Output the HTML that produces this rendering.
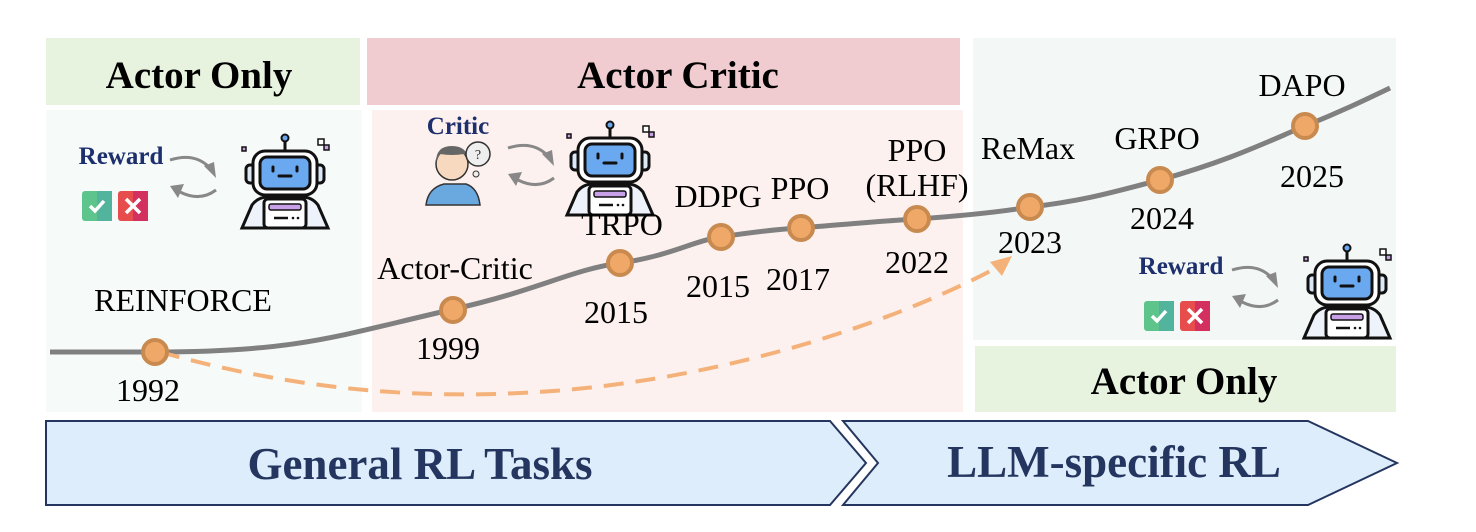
<!DOCTYPE html>
<html><head><meta charset="utf-8"><style>
html,body{margin:0;padding:0;background:#fff;}
svg{display:block;font-family:"Liberation Serif",serif;}
</style></head><body>
<svg width="1476" height="532" viewBox="0 0 1476 532" xmlns="http://www.w3.org/2000/svg">
<defs>
<g id="robot">
  <path d="M2 95 L12 72 Q18 64 28 64 L62 64 Q72 64 78 72 L88 95 Z" fill="#eef3fb" stroke="#111" stroke-width="3"/>
  <rect x="24" y="66" width="42" height="29" rx="4" fill="#fff" stroke="#111" stroke-width="3"/>
  <rect x="29" y="71" width="32" height="6" rx="2" fill="#c7a0e8" stroke="#111" stroke-width="1.5"/>
  <line x1="34" y1="85" x2="48" y2="85" stroke="#111" stroke-width="2.5"/>
  <circle cx="53" cy="85" r="1.3" fill="#111"/><circle cx="58" cy="85" r="1.3" fill="#111"/>
  <line x1="45" y1="6" x2="45" y2="18" stroke="#111" stroke-width="3"/>
  <circle cx="45" cy="5" r="3.5" fill="#6aa8f0" stroke="#111" stroke-width="2"/>
  <rect x="6" y="32" width="10" height="18" rx="4" fill="#dde8f6" stroke="#111" stroke-width="3"/>
  <rect x="74" y="32" width="10" height="18" rx="4" fill="#dde8f6" stroke="#111" stroke-width="3"/>
  <rect x="13" y="18" width="64" height="44" rx="12" fill="#fff" stroke="#111" stroke-width="3"/>
  <rect x="20" y="24" width="50" height="32" rx="7" fill="#6aa8f0" stroke="#111" stroke-width="3"/>
  <line x1="33" y1="34" x2="33" y2="38" stroke="#111" stroke-width="3" stroke-linecap="round"/>
  <line x1="57" y1="34" x2="57" y2="38" stroke="#111" stroke-width="3" stroke-linecap="round"/>
  <line x1="39" y1="43" x2="51" y2="43" stroke="#111" stroke-width="3" stroke-linecap="round"/>
  <rect x="2" y="14" width="4" height="4" fill="#c7a0e8" stroke="#111" stroke-width="1.5"/>
  <rect x="78" y="6" width="6" height="6" fill="#fff" stroke="#111" stroke-width="1.5"/>
  <rect x="84" y="12" width="5" height="5" fill="#c7a0e8" stroke="#111" stroke-width="1.5"/>
</g>
<g id="cyc">
  <path d="M0 0 Q25 -8 40 8" fill="none" stroke="#888" stroke-width="3"/>
  <path d="M34 6 L46 18 L44 2 Z" fill="#888"/>
  <path d="M46 30 Q30 42 10 32" fill="none" stroke="#888" stroke-width="3"/>
  <path d="M0 26 L14 24 L8 38 Z" fill="#888"/>
</g>
<g id="ticks">
  <rect x="0" y="0" width="30" height="30" rx="3" fill="#5dc48b"/>
  <rect x="15" y="0" width="15" height="30" fill="#53b49d"/>
  <path d="M8 15 L13 20 L22 10" fill="none" stroke="#fff" stroke-width="3.5"/>
  <rect x="36" y="0" width="30" height="30" rx="3" fill="#e84d4d"/>
  <rect x="51" y="0" width="15" height="30" rx="0" fill="#d33060"/>
  <path d="M44 8 L58 22 M58 8 L44 22" stroke="#fff" stroke-width="3.5"/>
</g>
</defs>

<rect x="46" y="38" width="314" height="67" fill="#e8f3df"/>
<rect x="46" y="110" width="316" height="302" fill="#f6faf8"/>
<rect x="367" y="38" width="593" height="67" fill="#f0ccd0"/>
<rect x="372" y="110" width="591" height="302" fill="#fdf1ef"/>
<rect x="973" y="38" width="423" height="302" fill="#f3f8f6"/>
<rect x="975" y="346" width="421" height="66" fill="#e8f3df"/>

<text x="199" y="88" font-size="39" font-weight="bold" text-anchor="middle" fill="#000">Actor Only</text>
<text x="678" y="88" font-size="39" font-weight="bold" text-anchor="middle" fill="#000">Actor Critic</text>
<text x="1184" y="394" font-size="39" font-weight="bold" text-anchor="middle" fill="#000">Actor Only</text>

<path d="M46 421 L830 421 L866 463 L830 505 L46 505 Z" fill="#deedfb" stroke="#24365f" stroke-width="2"/>
<path d="M843 421 L1308 421 L1397 463 L1308 505 L843 505 L878 463 Z" fill="#deedfb" stroke="#24365f" stroke-width="2"/>
<text x="420" y="479" font-size="45" font-weight="bold" text-anchor="middle" fill="#24365f">General RL Tasks</text>
<text x="1114" y="477" font-size="45" font-weight="bold" text-anchor="middle" fill="#24365f">LLM-specific RL</text>

<text x="121" y="164" font-size="25" font-weight="bold" text-anchor="middle" fill="#1e2f6e">Reward</text>
<use href="#ticks" x="82" y="191"/>
<use href="#cyc" x="170" y="160"/>
<use href="#robot" x="240" y="133"/>

<text x="458" y="134" font-size="25" font-weight="bold" text-anchor="middle" fill="#1e2f6e">Critic</text>
<g transform="translate(426,140)">
  <path d="M0 65 Q2 48 18 44 L40 44 Q52 48 54 65 Z" fill="#6aa8e0" stroke="#333" stroke-width="1.5"/>
  <circle cx="26" cy="24" r="16" fill="#f7d9bf" stroke="#333" stroke-width="1.5"/>
  <path d="M10 22 Q10 6 26 6 Q40 6 42 18 L38 14 Q26 16 14 14 Z" fill="#666"/>
  <circle cx="52" cy="14" r="12" fill="#eee" stroke="#333" stroke-width="1.5"/>
  <text x="52" y="19" font-size="14" text-anchor="middle" fill="#333">?</text>
  <circle cx="50" cy="34" r="3" fill="#eee" stroke="#333"/>
</g>
<use href="#cyc" x="508" y="148"/>
<use href="#robot" x="565" y="120"/>

<text x="1181" y="274" font-size="25" font-weight="bold" text-anchor="middle" fill="#1e2f6e">Reward</text>
<use href="#ticks" x="1144" y="301"/>
<use href="#cyc" x="1232" y="270"/>
<use href="#robot" x="1302" y="243"/>

<path d="M50 352 L155 352 C300 352 340 335 450 310 C540 290 570 270 620 263 C670 256 690 242 720 237 C760 231 780 229 800 228 C850 224 880 221 917 219 C960 216 1000 212 1030 207 C1090 200 1120 190 1160 180 C1230 160 1260 145 1305 126 C1340 112 1365 100 1390 88" fill="none" stroke="#808080" stroke-width="5"/>

<path d="M160 352 C260 380 380 400 520 393 C700 385 880 330 1000 266" fill="none" stroke="#f4b27a" stroke-width="4" stroke-dasharray="20,12"/>
<path d="M1012 256 L990 262 L1002 276 Z" fill="#f4b27a"/>

<g fill="#f0a868" stroke="#c98a50" stroke-width="4">
<circle cx="155" cy="352" r="12"/>
<circle cx="453" cy="310" r="12"/>
<circle cx="620" cy="263" r="12"/>
<circle cx="721" cy="237" r="12"/>
<circle cx="801" cy="228" r="12"/>
<circle cx="917" cy="219" r="12"/>
<circle cx="1030" cy="207" r="12"/>
<circle cx="1160" cy="180" r="12"/>
<circle cx="1305" cy="126" r="12"/>
</g>

<g font-size="32" text-anchor="middle" fill="#000">
<text x="183" y="311">REINFORCE</text>
<text x="148" y="401">1992</text>
<text x="455" y="279">Actor-Critic</text>
<text x="448" y="359">1999</text>
<text x="622" y="235">TRPO</text>
<text x="616" y="323">2015</text>
<text x="718" y="207">DDPG</text>
<text x="718" y="297">2015</text>
<text x="800" y="199">PPO</text>
<text x="798" y="290">2017</text>
<text x="917" y="161">PPO</text>
<text x="917" y="196">(RLHF)</text>
<text x="917" y="273">2022</text>
<text x="1028" y="159">ReMax</text>
<text x="1030" y="253">2023</text>
<text x="1157" y="149">GRPO</text>
<text x="1162" y="229">2024</text>
<text x="1302" y="96">DAPO</text>
<text x="1312" y="187">2025</text>
</g>
</svg>
</body></html>
